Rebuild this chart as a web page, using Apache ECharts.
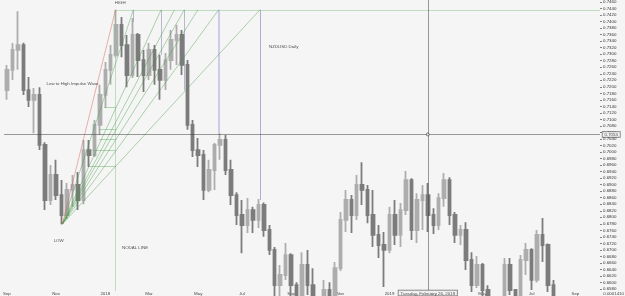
<!DOCTYPE html>
<html><head><meta charset="utf-8">
<script src="https://cdn.jsdelivr.net/npm/echarts@6/dist/echarts.min.js"></script>
<style>html,body{margin:0;padding:0;background:#f5f5f5}#c{width:625px;height:296px}</style>
</head><body><div id="c"></div>
<script>
// ---- data ----
const firstWeekUTC = [2017, 7, 28];   // Monday 2017-08-28
const weekCount = 109;
// weekly candles: [open, close, low, high]
const candles = [
[0.7190,0.7252,0.7160,0.7267],[0.7252,0.7313,0.7221,0.7334],[0.7313,0.7328,0.7252,0.7432],[0.7328,0.7190,0.7175,0.7335],
[0.7190,0.7160,0.7138,0.7230],[0.7160,0.7175,0.7058,0.7196],[0.7175,0.7022,0.7006,0.7199],[0.7022,0.6853,0.6822,0.7030],
[0.6853,0.6930,0.6838,0.6960],[0.6930,0.6868,0.6853,0.6976],[0.6868,0.6807,0.6779,0.6914],[0.6807,0.6884,0.6795,0.6905],
[0.6884,0.6899,0.6832,0.6930],[0.6899,0.6853,0.6822,0.6939],[0.6853,0.7006,0.6840,0.7037],[0.7006,0.6991,0.6954,0.7037],
[0.6991,0.7083,0.6985,0.7098],[0.7083,0.7175,0.7052,0.7206],[0.7175,0.7252,0.7135,0.7276],[0.7252,0.7298,0.7206,0.7328],
[0.7298,0.7390,0.7290,0.7436],[0.7390,0.7328,0.7291,0.7414],[0.7328,0.7236,0.7199,0.7359],[0.7236,0.7359,0.7227,0.7411],
[0.7359,0.7282,0.7230,0.7365],[0.7282,0.7236,0.7184,0.7313],[0.7236,0.7313,0.7221,0.7334],[0.7313,0.7252,0.7206,0.7328],
[0.7252,0.7221,0.7160,0.7298],[0.7221,0.7282,0.7190,0.7304],[0.7282,0.7344,0.7252,0.7374],[0.7344,0.7359,0.7267,0.7390],
[0.7359,0.7267,0.7236,0.7374],[0.7267,0.7083,0.7068,0.7282],[0.7083,0.7006,0.6985,0.7098],[0.7006,0.6991,0.6954,0.7043],
[0.6991,0.6884,0.6853,0.7006],[0.6884,0.6945,0.6877,0.6976],[0.6945,0.7022,0.6884,0.7028],[0.7022,0.7037,0.6976,0.7058],
[0.7037,0.6945,0.6930,0.7052],[0.6945,0.6868,0.6838,0.6976],[0.6868,0.6807,0.6776,0.6877],[0.6807,0.6776,0.6690,0.6853],
[0.6776,0.6822,0.6752,0.6859],[0.6822,0.6792,0.6752,0.6832],[0.6792,0.6838,0.6767,0.6856],[0.6838,0.6761,0.6740,0.6845],
[0.6761,0.6700,0.6684,0.6776],[0.6700,0.6592,0.6546,0.6709],[0.6592,0.6623,0.6546,0.6654],[0.6623,0.6684,0.6608,0.6721],
[0.6684,0.6592,0.6546,0.6690],[0.6592,0.6546,0.6516,0.6601],[0.6546,0.6654,0.6540,0.6693],[0.6654,0.6592,0.6562,0.6700],
[0.6592,0.6546,0.6531,0.6644],[0.6546,0.6520,0.6450,0.6560],[0.6520,0.6577,0.6500,0.6608],[0.6577,0.6531,0.6500,0.6601],
[0.6531,0.6644,0.6516,0.6663],[0.6644,0.6792,0.6635,0.6816],[0.6792,0.6853,0.6755,0.6884],[0.6853,0.6807,0.6752,0.6868],
[0.6807,0.6899,0.6792,0.6930],[0.6899,0.6884,0.6838,0.6969],[0.6884,0.6807,0.6782,0.6899],[0.6807,0.6746,0.6709,0.6884],
[0.6746,0.6715,0.6675,0.6776],[0.6715,0.6700,0.6586,0.6755],[0.6700,0.6807,0.6690,0.6832],[0.6807,0.6746,0.6715,0.6853],
[0.6746,0.6822,0.6709,0.6844],[0.6822,0.6914,0.6807,0.6942],[0.6914,0.6761,0.6730,0.6920],[0.6761,0.6853,0.6721,0.6874],
[0.6853,0.6868,0.6761,0.6899],[0.6868,0.6807,0.6755,0.6905],[0.6807,0.6776,0.6749,0.6828],[0.6776,0.6859,0.6761,0.6874],
[0.6859,0.6914,0.6832,0.6936],[0.6914,0.6807,0.6776,0.6923],[0.6807,0.6746,0.6721,0.6816],[0.6746,0.6761,0.6715,0.6776],
[0.6761,0.6669,0.6638,0.6785],[0.6669,0.6592,0.6571,0.6693],[0.6592,0.6654,0.6583,0.6681],[0.6654,0.6577,0.6546,0.6660],
[0.6577,0.6546,0.6516,0.6592],[0.6546,0.6530,0.6480,0.6560],[0.6530,0.6540,0.6490,0.6565],[0.6540,0.6654,0.6530,0.6675],
[0.6654,0.6577,0.6562,0.6675],[0.6577,0.6540,0.6510,0.6580],[0.6546,0.6669,0.6540,0.6684],[0.6669,0.6700,0.6623,0.6721],
[0.6700,0.6608,0.6577,0.6705],[0.6608,0.6746,0.6600,0.6761],[0.6746,0.6715,0.6663,0.6798],[0.6715,0.6592,0.6571,0.6720],
[0.6592,0.6500,0.6485,0.6608]
];
const xTickDates = ['2017-08-28','2017-10-30','2018-01-01','2018-02-26','2018-04-30','2018-06-25','2018-08-27','2018-10-29','2018-12-31','2019-02-25','2019-04-29','2019-07-01','2019-08-26'];
const xTickText  = ['Sep','Nov','2018','Mar','May','Jul','Sep','Nov','2019','Mar','May','Jul','Sep'];
const yMin = 0.6574, yMax = 0.7466;
const yTickFirst = 0.6580, yTickLast = 0.7460, yTickStep = 0.0020;

// annotation geometry (x in week units, y in price)
const lowPoint  = [10.15, 0.6779];
const highPoint = [19.88, 0.7436];
const fanEndWeeks = [23.13, 28.21, 30.66, 32.45, 34.94, 38.73, 46.29];
const topLineEndWeek = 108.5;
const stepStartWeeks = [17.82, 16.91, 16.91, 15.64, 15.10];
const stepPrices     = [0.7137, 0.7071, 0.7039, 0.7007, 0.6955];
const dropWeeks  = [23.13, 28.21, 32.45, 38.73, 46.29];
const dropPrices = [0.7399, 0.7298, 0.7190, 0.7058, 0.6853];
const crossWeek = 77, crossPrice = 0.7054;
const crossDateText = 'Tuesday, February 26, 2019';
const cornerText = '0.0001410';
const notes = [
  [20.72, 0.7457, 'HIGH'],
  [12.01, 0.7209, 'Low to High Impulse Wave'],
  [9.47, 0.6727, 'LOW'],
  [23.44, 0.6706, 'NODAL LINE'],
  [50.64, 0.7322, 'NZDUSD Daily']
];

// ---- build ----
const cats = [];
for (let i = 0; i < weekCount; i++) {
  cats.push(new Date(Date.UTC(firstWeekUTC[0], firstWeekUTC[1], firstWeekUTC[2] + 7 * i)).toISOString().slice(0, 10));
}
const yTicks = [];
for (let v = yTickFirst; v <= yTickLast + 1e-9; v += yTickStep) yTicks.push(+v.toFixed(4));

const FS = 4.4, FF = 'Liberation Sans', BG = '#f5f5f5';
const seg = (a, b, color, width) => ({coords: [a, b], lineStyle: {color: color, width: width}});
const segs = [];
segs.push(seg(highPoint, [topLineEndWeek, highPoint[1]], '#8cc48c', 1));
segs.push(seg(highPoint, [highPoint[0], yMin], '#8cc48c', 1));
stepStartWeeks.forEach((w, k) => segs.push(seg([w, stepPrices[k]], [highPoint[0], stepPrices[k]], '#5fae5f', 0.9)));
dropWeeks.forEach((w, k) => {
  const c = k === 3 ? '#a3a3dc' : (k === 4 ? '#6a6ab4' : '#7a7aa8');
  const wd = k === 3 ? 2 : 1;
  segs.push(seg([w, highPoint[1]], [w, dropPrices[k]], c, wd));
});
fanEndWeeks.forEach(w => segs.push(seg(lowPoint, [w, highPoint[1]], '#3d963d', 0.8)));
segs.push(seg(lowPoint, highPoint, '#d95757', 0.9));
const cross = [
  seg([crossWeek, yMin], [crossWeek, yMax], '#3a3a3a', 1),
  seg([-0.5, crossPrice], [topLineEndWeek, crossPrice], '#3a3a3a', 1)
];
const boxLabel = {fontSize: FS, color: '#222', backgroundColor: BG, borderColor: '#555', borderWidth: 0.7,
  padding: [1, 2, 0, 2], fontFamily: FF};
const hidden = {color: 'rgba(0,0,0,0)', borderWidth: 0};

const chart = echarts.init(document.getElementById('c'), null, {renderer: 'canvas'});
chart.setOption({
  backgroundColor: BG,
  animation: false,
  textStyle: {fontFamily: FF},
  grid: {left: -1, right: 25, top: 0, bottom: 5},
  xAxis: [{
    type: 'category', data: cats, boundaryGap: true,
    axisLine: {show: false}, axisTick: {show: false}, splitLine: {show: false},
    axisLabel: {
      interval: (idx, val) => xTickDates.indexOf(val) >= 0,
      formatter: val => xTickText[xTickDates.indexOf(val)] || '',
      fontSize: FS, color: '#444', margin: 1, fontFamily: FF
    }
  }, {
    type: 'value', min: -0.5, max: weekCount - 0.5, show: false,
    axisLine: {onZero: false}
  }],
  yAxis: [{
    type: 'value', position: 'right', min: yMin, max: yMax,
    axisLine: {show: false, onZero: false}, splitLine: {show: false},
    axisTick: {show: true, length: 2, customValues: yTicks, lineStyle: {color: '#666', width: 0.8}},
    axisLabel: {customValues: yTicks, formatter: v => v.toFixed(4), fontSize: FS, color: '#333', margin: 3, fontFamily: FF}
  }],
  series: [{
    type: 'candlestick', data: candles, barWidth: 3, clip: true, z: 2,
    itemStyle: {color: '#adadad', color0: '#7c7c7c', borderColor: '#adadad', borderColor0: '#7c7c7c', borderWidth: 1.8}
  }, {
    type: 'lines', coordinateSystem: 'cartesian2d', xAxisIndex: 1, yAxisIndex: 0, z: 5,
    silent: true, data: segs
  }, {
    type: 'lines', coordinateSystem: 'cartesian2d', xAxisIndex: 1, yAxisIndex: 0, z: 9,
    silent: true, data: cross
  }, {
    type: 'scatter', xAxisIndex: 1, yAxisIndex: 0, z: 6, silent: true,
    symbolSize: 1, itemStyle: hidden,
    data: notes,
    label: {show: true, position: 'inside', formatter: p => p.value[2], fontSize: FS, color: '#222', fontFamily: FF}
  }, {
    type: 'scatter', xAxisIndex: 1, yAxisIndex: 0, z: 11, silent: true, clip: false,
    symbolSize: 1, itemStyle: hidden,
    data: [
      {value: [crossWeek, yMin], label: Object.assign({show: true, position: 'bottom', distance: -1, formatter: crossDateText}, boxLabel)},
      {value: [weekCount - 0.5, crossPrice], label: Object.assign({show: true, position: 'right', distance: 2, formatter: crossPrice.toFixed(4)}, boxLabel)}
    ]
  }, {
    type: 'scatter', xAxisIndex: 1, yAxisIndex: 0, z: 11, silent: true,
    symbol: 'circle', symbolSize: 3,
    itemStyle: {color: BG, borderColor: '#333', borderWidth: 0.8},
    data: [[crossWeek, crossPrice]]
  }],
  graphic: [{
    type: 'text', right: 1, bottom: 0,
    style: {text: cornerText, fontSize: FS, fill: '#444', fontFamily: FF}
  }]
});
</script></body></html>
